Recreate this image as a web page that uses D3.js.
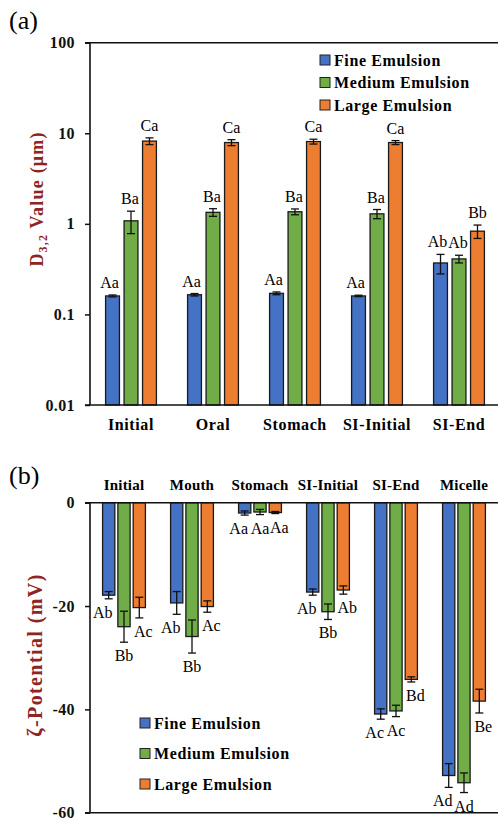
<!DOCTYPE html>
<html>
<head>
<meta charset="utf-8">
<script src="https://cdn.jsdelivr.net/npm/d3@7"></script>
<style>
  body { margin: 0; background: #fff; }
  svg { display: block; }
  text { font-family: "Liberation Serif", "Times New Roman", serif; }
</style>
</head>
<body>
<script>
// series shared by both panels
const series = ['Fine Emulsion', 'Medium Emulsion', 'Large Emulsion'];
const colors = ['#4472C4', '#70AD47', '#ED7D31'];

// (a) D3,2 values (um), log axis
const catsA = ['Initial', 'Oral', 'Stomach', 'SI-Initial', 'SI-End'];
const d32Fine = [0.16, 0.165, 0.171, 0.16, 0.37];
const d32Medium = [1.08, 1.34, 1.36, 1.29, 0.41];
const d32Large = [8.2, 7.9, 8.1, 7.9, 0.83];
const d32FineErr = [0.004, 0.005, 0.006, 0.003, 0.09];
const d32MediumErr = [0.3, 0.13, 0.1, 0.15, 0.04];
const d32LargeErr = [0.7, 0.6, 0.5, 0.4, 0.14];
const d32FineLbl = ['Aa', 'Aa', 'Aa', 'Aa', 'Ab'];
const d32MediumLbl = ['Ba', 'Ba', 'Ba', 'Ba', 'Ab'];
const d32LargeLbl = ['Ca', 'Ca', 'Ca', 'Ca', 'Bb'];
const ticksA = [0.01, 0.1, 1, 10, 100];
const tickLabelsA = ['0.01', '0.1', '1', '10', '100'];

// (b) zeta potential (mV)
const catsB = ['Initial', 'Mouth', 'Stomach', 'SI-Initial', 'SI-End', 'Micelle'];
const zetaFine = [-17.9, -19.4, -2.0, -17.3, -40.9, -52.8];
const zetaMedium = [-24.0, -25.9, -1.8, -21.1, -40.3, -54.2];
const zetaLarge = [-20.3, -20.1, -1.9, -16.9, -34.2, -38.4];
const zetaFineErr = [0.7, 2.2, 0.4, 0.6, 1.0, 2.3];
const zetaMediumErr = [3.0, 3.2, 0.5, 1.5, 1.1, 1.9];
const zetaLargeErr = [2.0, 1.1, 0.2, 0.8, 0.5, 2.3];
const zetaFineLbl = ['Ab', 'Ab', 'Aa', 'Ab', 'Ac', 'Ad'];
const zetaMediumLbl = ['Bb', 'Bb', 'Aa', 'Bb', 'Ac', 'Ad'];
const zetaLargeLbl = ['Ac', 'Ac', 'Aa', 'Ab', 'Bd', 'Be'];
const ticksB = [0, -20, -40, -60];

const width = 498, height = 820;
const titleColor = '#8E2424';

const svg = d3.select('body').append('svg')
  .attr('width', width)
  .attr('height', height);

// builds rows of {cat, s, v, e, lbl}
function rows(cats, vals, errs, lbls) {
  const out = [];
  cats.forEach((c, i) => {
    vals.forEach((arr, s) => out.push({ cat: c, s: s, v: arr[i], e: errs[s][i], lbl: lbls[s][i] }));
  });
  return out;
}

function errorBars(g, data, x0, x1, y) {
  const cx = d => x0(d.cat) + x1(d.s) + x1.bandwidth() / 2;
  const eb = g.selectAll('.err').data(data).enter().append('g').attr('class', 'err')
    .attr('stroke', '#111').attr('stroke-width', 1.3);
  eb.append('line').attr('x1', cx).attr('x2', cx)
    .attr('y1', d => y(d.v + d.e)).attr('y2', d => y(d.v - d.e));
  eb.append('line').attr('x1', d => cx(d) - 4).attr('x2', d => cx(d) + 4)
    .attr('y1', d => y(d.v + d.e)).attr('y2', d => y(d.v + d.e));
  eb.append('line').attr('x1', d => cx(d) - 4).attr('x2', d => cx(d) + 4)
    .attr('y1', d => y(d.v - d.e)).attr('y2', d => y(d.v - d.e));
}

function legend(x, y, gap) {
  const lg = svg.append('g').attr('transform', `translate(${x},${y})`);
  series.forEach((s, i) => {
    lg.append('rect').attr('x', 0).attr('y', i * gap - 5).attr('width', 10).attr('height', 10)
      .attr('fill', colors[i]).attr('stroke', '#222').attr('stroke-width', 1);
    lg.append('text').attr('x', 14).attr('y', i * gap + 5.5)
      .attr('font-size', 16).attr('font-weight', 'bold').attr('letter-spacing', 0.6)
      .text(s);
  });
}

function styleAxis(g) {
  g.select('.domain').remove();
  g.selectAll('.tick line').attr('stroke', '#111').attr('stroke-width', 1.5);
  g.selectAll('.tick text').attr('font-family', '"Liberation Serif", serif')
    .attr('font-size', 16).attr('font-weight', 'bold').attr('fill', '#111')
    .attr('letter-spacing', 0.4);
}

// ---------- panel (a) ----------
const aL = 90, aR = 500, aT = 42.7, aB = 405;
const x0a = d3.scaleBand().domain(catsA).range([aL, aR]).paddingInner(0.38).paddingOuter(0.19);
const x1a = d3.scaleBand().domain([0, 1, 2]).range([0, x0a.bandwidth()]).paddingInner(0.25);
const ya = d3.scaleLog().domain([0.01, 100]).range([aB, aT]);
const dataA = rows(catsA, [d32Fine, d32Medium, d32Large],
  [d32FineErr, d32MediumErr, d32LargeErr], [d32FineLbl, d32MediumLbl, d32LargeLbl]);

const gA = svg.append('g');
gA.selectAll('rect').data(dataA).enter().append('rect')
  .attr('x', d => x0a(d.cat) + x1a(d.s))
  .attr('width', x1a.bandwidth())
  .attr('y', d => ya(d.v))
  .attr('height', d => ya(0.01) - ya(d.v))
  .attr('fill', d => colors[d.s])
  .attr('stroke', '#1a1a1a').attr('stroke-width', 1.3);
errorBars(gA, dataA, x0a, x1a, ya);

const aDx = [-3, -1, 0];
gA.selectAll('.lbl').data(dataA).enter().append('text')
  .attr('x', d => x0a(d.cat) + x1a(d.s) + x1a.bandwidth() / 2 + aDx[d.s])
  .attr('y', d => ya(d.v + d.e) - 7)
  .attr('text-anchor', 'middle').attr('font-size', 16)
  .text(d => d.lbl);

const axA = svg.append('g').attr('transform', `translate(${aL},0)`)
  .call(d3.axisLeft(ya).tickValues(ticksA).tickSize(5).tickPadding(10)
    .tickFormat((d, i) => tickLabelsA[i]));
styleAxis(axA);

svg.append('line').attr('x1', aL).attr('x2', aL).attr('y1', aT).attr('y2', aB)
  .attr('stroke', '#111').attr('stroke-width', 1.6);
svg.append('line').attr('x1', aL - 5).attr('x2', width).attr('y1', aT).attr('y2', aT)
  .attr('stroke', '#111').attr('stroke-width', 1.6);
svg.append('line').attr('x1', aL - 5).attr('x2', width).attr('y1', aB).attr('y2', aB)
  .attr('stroke', '#111').attr('stroke-width', 1.6);

svg.selectAll('.catA').data(catsA).enter().append('text')
  .attr('x', d => x0a(d) + x0a.bandwidth() / 2)
  .attr('y', 430)
  .attr('text-anchor', 'middle').attr('font-size', 16).attr('font-weight', 'bold')
  .attr('letter-spacing', 0.6)
  .text(d => d);

const tA = svg.append('text')
  .attr('transform', 'translate(43,199) rotate(-90)')
  .attr('text-anchor', 'middle').attr('font-size', 18).attr('font-weight', 'bold')
  .attr('fill', titleColor).attr('letter-spacing', 1.2);
tA.append('tspan').text('D');
tA.append('tspan').attr('font-size', 12).attr('dy', 4).text('3,2');
tA.append('tspan').attr('dy', -4).text(' Value (\u03bcm)');

svg.append('text').attr('x', 9).attr('y', 29).attr('font-size', 26).text('(a)');
legend(320, 60, 22.5);

// ---------- panel (b) ----------
const bL = 90, bR = 498;
const x0b = d3.scaleBand().domain(catsB).range([bL, bR]).paddingInner(0.37).paddingOuter(0.185);
const x1b = d3.scaleBand().domain([0, 1, 2]).range([0, x0b.bandwidth()]).paddingInner(0.2);
const yb = d3.scaleLinear().domain([0, -60]).range([502.7, 812.7]);
const dataB = rows(catsB, [zetaFine, zetaMedium, zetaLarge],
  [zetaFineErr, zetaMediumErr, zetaLargeErr], [zetaFineLbl, zetaMediumLbl, zetaLargeLbl]);

const gB = svg.append('g');
gB.selectAll('rect').data(dataB).enter().append('rect')
  .attr('x', d => x0b(d.cat) + x1b(d.s))
  .attr('width', x1b.bandwidth())
  .attr('y', yb(0))
  .attr('height', d => yb(d.v) - yb(0))
  .attr('fill', d => colors[d.s])
  .attr('stroke', '#1a1a1a').attr('stroke-width', 1.3);
errorBars(gB, dataB, x0b, x1b, yb);

const bDx = [-6, 0, 4];
gB.selectAll('.lbl').data(dataB).enter().append('text')
  .attr('x', d => x0b(d.cat) + x1b(d.s) + x1b.bandwidth() / 2 + bDx[d.s])
  .attr('y', d => yb(d.v - d.e) + 19)
  .attr('text-anchor', 'middle').attr('font-size', 16)
  .text(d => d.lbl);

const axB = svg.append('g').attr('transform', `translate(${bL},0)`)
  .call(d3.axisLeft(yb).tickValues(ticksB).tickSize(5).tickPadding(10)
    .tickFormat(d3.format('d')));
styleAxis(axB);
axB.selectAll('.tick text').text(d => d < 0 ? '-' + Math.abs(d) : d);

svg.append('line').attr('x1', bL).attr('x2', bL).attr('y1', yb(0)).attr('y2', yb(-60))
  .attr('stroke', '#111').attr('stroke-width', 1.6);
svg.append('line').attr('x1', bL - 5).attr('x2', width).attr('y1', yb(0)).attr('y2', yb(0))
  .attr('stroke', '#111').attr('stroke-width', 1.6);
svg.append('line').attr('x1', bL - 5).attr('x2', width).attr('y1', yb(-60)).attr('y2', yb(-60))
  .attr('stroke', '#111').attr('stroke-width', 1.6);

svg.selectAll('.catB').data(catsB).enter().append('text')
  .attr('x', d => x0b(d) + x0b.bandwidth() / 2)
  .attr('y', 490)
  .attr('text-anchor', 'middle').attr('font-size', 15).attr('font-weight', 'bold')
  .attr('letter-spacing', 0.2)
  .text(d => d);

svg.append('text')
  .attr('transform', 'translate(42,655) rotate(-90)')
  .attr('text-anchor', 'middle').attr('font-size', 20).attr('font-weight', 'bold')
  .attr('fill', titleColor).attr('letter-spacing', 1.4)
  .text('\u03b6-Potential (mV)');

svg.append('text').attr('x', 9).attr('y', 484).attr('font-size', 26).text('(b)');
legend(140, 723, 30.5);
</script>
</body>
</html>
